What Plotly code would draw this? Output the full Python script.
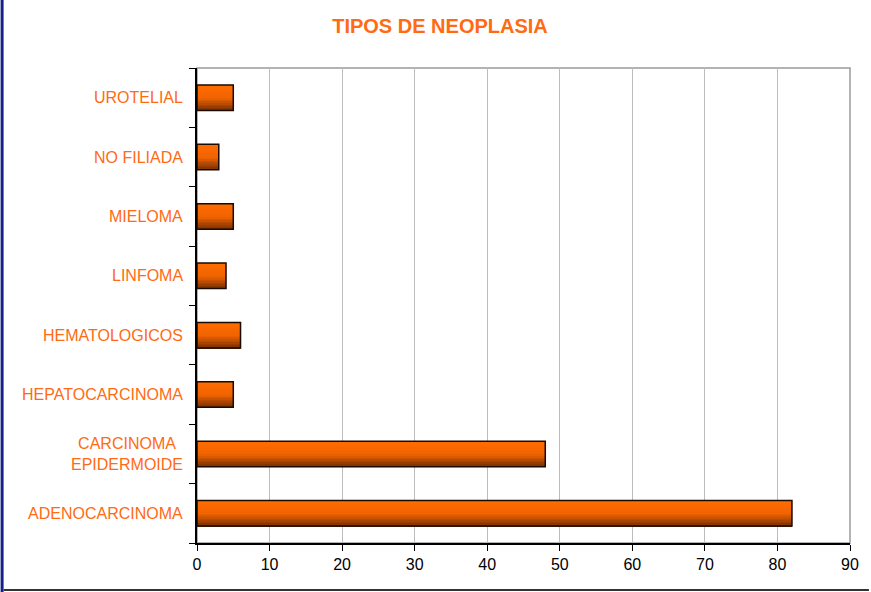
import plotly.graph_objects as go

categories = ["ADENOCARCINOMA", "CARCINOMA<br>EPIDERMOIDE", "HEPATOCARCINOMA", "HEMATOLOGICOS",
              "LINFOMA", "MIELOMA", "NO FILIADA", "UROTELIAL"]
values = [82, 48, 5, 6, 4, 5, 3, 5]
x_ticks = [0, 10, 20, 30, 40, 50, 60, 70, 80, 90]

W, H = 871, 592
L, R, T, B = 197, 19, 68, 49
pw, ph = W - L - R, H - T - B

ORANGE = "#FF6A12"
FONT = "Liberation Sans, Arial, sans-serif"
fig = go.Figure()

# gradient bars (top bright orange -> bottom dark brown)
bw = 0.43
N = 16
top = (255, 108, 0)
mid = (240, 100, 0)
bot = (120, 48, 0)
ypos = list(range(len(categories)))
for i in range(N):
    t = i / (N - 1)  # 0 bottom -> 1 top
    if t > 0.5:
        s = (t - 0.5) / 0.5
        c = tuple(int(mid[k] + (top[k] - mid[k]) * s) for k in range(3))
    else:
        s = t / 0.5
        c = tuple(int(bot[k] + (mid[k] - bot[k]) * s) for k in range(3))
    fig.add_trace(go.Bar(
        y=ypos, x=values, orientation="h",
        width=bw / N, offset=-bw / 2 + i * bw / N - 0.001,
        marker=dict(color="rgb(%d,%d,%d)" % c, line=dict(width=0)),
        showlegend=False, hoverinfo="skip"))
# outline
fig.add_trace(go.Bar(
    y=ypos, x=values, orientation="h", width=bw,
    marker=dict(color="rgba(0,0,0,0)", line=dict(color="#1a0a00", width=1.5)),
    showlegend=False, hoverinfo="skip"))

fig.update_layout(
    width=W, height=H,
    margin=dict(l=L, r=R, t=T, b=B),
    paper_bgcolor="white", plot_bgcolor="white",
    barmode="overlay",
    font=dict(family=FONT),
    title=dict(text="<b>TIPOS DE NEOPLASIA</b>", x=440 / W, xanchor="center",
               y=1 - 26 / H, yanchor="middle",
               font=dict(size=20, color=ORANGE, family=FONT)),
    xaxis=dict(range=[0, 90], tickvals=x_ticks, ticktext=[str(v) for v in x_ticks],
               showgrid=True, gridcolor="#BDBDBD", gridwidth=1,
               showline=True, linecolor="black", linewidth=1.5,
               ticks="outside", ticklen=6, tickcolor="black",
               tickfont=dict(size=16, color="black"), zeroline=False, fixedrange=True),
    yaxis=dict(range=[-0.5, len(categories) - 0.5], tickvals=[i + 0.5 for i in range(-1, len(categories))],
               ticktext=[""] * (len(categories) + 1),
               showgrid=False, showline=True, linecolor="black", linewidth=1.5,
               ticks="outside", ticklen=6, tickcolor="black", zeroline=False, fixedrange=True),
    shapes=[
        dict(type="rect", xref="paper", yref="paper", x0=0, x1=1, y0=0, y1=1,
             line=dict(color="#9A9A9A", width=1.5), layer="below"),
        dict(type="rect", xref="paper", yref="paper", x0=-L / pw, x1=(-L + 3) / pw,
             y0=-B / ph, y1=1 + T / ph, fillcolor="#14208C", line=dict(width=0)),
        dict(type="line", xref="paper", yref="paper", x0=(-L + 3) / pw, x1=1 + R / pw,
             y0=-(B - 2) / ph, y1=-(B - 2) / ph, line=dict(color="#333333", width=2)),
    ],
)

for i, c in enumerate(categories):
    fig.add_annotation(x=0, xref="paper", y=i, yref="y", text=c, showarrow=False,
                       xanchor="right", xshift=-12, align="center",
                       font=dict(size=16, color=ORANGE, family=FONT))

fig.write_html("out.html", config={"displayModeBar": False},
               post_script="document.body.style.margin='0px';document.body.style.overflow='hidden';")
